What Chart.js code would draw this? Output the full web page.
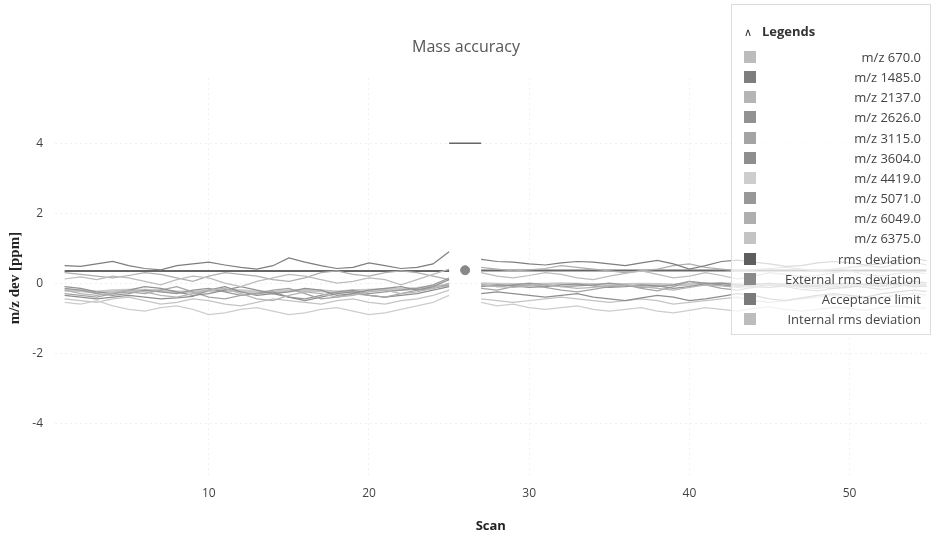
<!DOCTYPE html>
<html>
<head>
<meta charset="utf-8">
<script src="https://cdn.jsdelivr.net/npm/chart.js@4.4.1/dist/chart.umd.min.js"></script>
<style>
body{margin:0;background:#fff;}
#wrap{position:relative;width:932px;height:536px;}
#legend{position:absolute;left:731px;top:4px;width:200px;height:331px;border:1px solid #dcdcdc;background:rgba(255,255,255,0.72);font-family:"Open Sans",sans-serif;font-size:13px;color:#444;box-sizing:border-box;}
#legend .hd{position:absolute;left:12px;top:17px;font-weight:bold;color:#333;}
#legend .hd span{display:inline-block;width:18px;font-weight:normal;font-size:11px;}
#legend .row{position:absolute;left:12px;right:9px;height:18px;line-height:18px;text-align:right;}
#legend .sw{position:absolute;left:0;top:3px;width:12px;height:12px;}
</style>
</head>
<body>
<div id="wrap">
<canvas id="chart" width="932" height="536"></canvas>
<div id="legend"></div>
</div>
<script>
const scans = [1,2,3,4,5,6,7,8,9,10,11,12,13,14,15,16,17,18,19,20,21,22,23,24,25,26,27,28,29,30,31,32,33,34,35,36,37,38,39,40,41,42,43,44,45,46,47,48,49,50,51,52,53,54,55];

const mz670 = [0.12,0.18,0.1,0.2,0.15, 0.05,-0.05,0.1,0.2,0.15, 0.0,-0.1,0.05,0.15,0.25, 0.2,0.1,0.0,0.05,0.15, 0.1,-0.05,0.1,0.25,0.4, null,
  0.3,0.2,0.15,0.22,0.3, 0.25,0.15,0.1,0.2,0.28, 0.35,0.25,0.15,0.2,0.3, 0.22,0.12,0.2,0.3,0.25, 0.18,0.22,0.3,0.35,0.25, 0.2,0.28,0.32,0.25];
const mz1485 = [0.5,0.48,0.55,0.62,0.5, 0.42,0.38,0.5,0.55,0.6, 0.52,0.45,0.4,0.5,0.72, 0.6,0.5,0.42,0.45,0.58, 0.5,0.42,0.45,0.55,0.9, null,
  0.68,0.62,0.6,0.55,0.52, 0.58,0.62,0.6,0.55,0.5, 0.58,0.65,0.55,0.4,0.5, 0.62,0.66,0.6,0.55,0.48, 0.5,0.58,0.62,0.58,0.52, 0.55,0.65,0.72,0.62];
const mz2137 = [-0.2,-0.3,-0.35,-0.28,-0.2, -0.25,-0.35,-0.4,-0.3,-0.2, -0.15,-0.3,-0.45,-0.5,-0.35, -0.25,-0.3,-0.4,-0.35,-0.25, -0.2,-0.3,-0.25,-0.15,0.0, null,
  -0.05,-0.1,-0.12,-0.08,-0.05, -0.1,-0.15,-0.12,-0.08,-0.05, -0.1,-0.15,-0.2,-0.12,-0.05, -0.08,-0.12,-0.1,-0.05,-0.08, -0.12,-0.15,-0.1,-0.05,-0.08, -0.1,-0.06,-0.04,-0.08];
const mz2626 = [-0.1,-0.15,-0.25,-0.3,-0.2, -0.1,-0.15,-0.25,-0.35,-0.3, -0.2,-0.1,-0.2,-0.3,-0.25, -0.15,-0.2,-0.35,-0.3,-0.2, -0.15,-0.1,-0.2,-0.1,0.1, null,
  -0.1,-0.05,-0.08,-0.12,-0.1, -0.05,-0.02,-0.08,-0.12,-0.1, -0.05,-0.08,-0.15,-0.1,-0.02, 0.0,-0.05,-0.1,-0.12,-0.08, -0.05,-0.1,-0.15,-0.12,-0.05, 0.0,-0.05,-0.1,-0.08];
const mz3115 = [-0.3,-0.35,-0.4,-0.3,-0.25, -0.3,-0.2,-0.1,-0.25,-0.4, -0.45,-0.35,-0.3,-0.2,-0.15, -0.3,-0.45,-0.4,-0.3,-0.35, -0.4,-0.3,-0.2,-0.15,-0.05, null,
  -0.15,-0.2,-0.1,-0.05,-0.12, -0.2,-0.25,-0.18,-0.1,-0.05, -0.15,-0.22,-0.1,0.05,-0.05, -0.15,-0.2,-0.12,-0.05,-0.1, -0.18,-0.22,-0.15,-0.08,-0.12, -0.18,-0.1,-0.02,-0.1];
const mz3604 = [-0.35,-0.4,-0.45,-0.4,-0.35, -0.4,-0.45,-0.42,-0.38,-0.2, -0.1,-0.25,-0.35,-0.3,-0.4, -0.5,-0.4,-0.3,-0.25,-0.35, -0.4,-0.35,-0.3,-0.2,-0.1, null,
  -0.3,-0.25,-0.3,-0.35,-0.4, -0.35,-0.3,-0.4,-0.45,-0.5, -0.42,-0.35,-0.4,-0.5,-0.45, -0.38,-0.3,-0.35,-0.45,-0.5, -0.42,-0.35,-0.3,-0.35,-0.4, -0.3,-0.25,-0.2,-0.25];
const mz4419 = [-0.55,-0.6,-0.5,-0.65,-0.75, -0.8,-0.7,-0.65,-0.75,-0.9, -0.85,-0.75,-0.7,-0.8,-0.9, -0.85,-0.75,-0.7,-0.8,-0.9, -0.85,-0.75,-0.65,-0.55,-0.35, null,
  -0.55,-0.65,-0.6,-0.7,-0.75, -0.7,-0.65,-0.75,-0.8,-0.75, -0.7,-0.8,-0.85,-0.78,-0.7, -0.75,-0.8,-0.72,-0.68,-0.75, -0.8,-0.75,-0.7,-0.72,-0.78, -0.7,-0.65,-0.7,-0.72];
const mz5071 = [-0.15,-0.2,-0.3,-0.35,-0.3, -0.2,-0.25,-0.3,-0.2,-0.15, -0.25,-0.35,-0.3,-0.25,-0.4, -0.45,-0.35,-0.25,-0.2,-0.3, -0.25,-0.2,-0.15,-0.05,0.15, null,
  -0.05,-0.1,-0.05,0.0,-0.05, -0.1,-0.08,-0.05,0.0,-0.05, -0.12,-0.1,-0.05,0.05,0.0, -0.05,-0.1,-0.05,0.0,-0.05, -0.1,-0.08,-0.02,0.0,-0.05, -0.08,-0.02,0.05,0.0];
const mz6049 = [0.3,0.25,0.2,0.15,0.22, 0.3,0.25,0.15,0.05,0.2, 0.3,0.25,0.2,0.1,0.05, 0.15,0.3,0.35,0.25,0.2, 0.3,0.35,0.3,0.2,0.1, null,
  0.45,0.4,0.35,0.38,0.42, 0.5,0.45,0.4,0.35,0.3, 0.35,0.4,0.5,0.55,0.45, 0.4,0.35,0.38,0.42,0.45, 0.4,0.35,0.4,0.45,0.5, 0.45,0.55,0.6,0.5];
const mz6375 = [-0.45,-0.5,-0.55,-0.45,-0.4, -0.5,-0.6,-0.55,-0.45,-0.5, -0.6,-0.65,-0.55,-0.45,-0.5, -0.55,-0.6,-0.5,-0.45,-0.55, -0.6,-0.5,-0.45,-0.35,-0.2, null,
  -0.45,-0.5,-0.55,-0.5,-0.45, -0.4,-0.45,-0.5,-0.55,-0.5, -0.45,-0.5,-0.6,-0.55,-0.5, -0.45,-0.4,-0.5,-0.55,-0.5, -0.45,-0.4,-0.35,-0.4,-0.45, -0.4,-0.35,-0.3,-0.35];
const extRms = [0.35,0.35,0.35,0.35,0.35, 0.35,0.35,0.35,0.35,0.35, 0.35,0.35,0.35,0.35,0.35, 0.35,0.35,0.35,0.35,0.35, 0.35,0.35,0.35,0.35,0.35, null,
  0.36,0.36,0.36,0.36,0.36, 0.36,0.36,0.36,0.36,0.36, 0.36,0.36,0.36,0.36,0.36, 0.36,0.36,0.36,0.36,0.36, 0.36,0.36,0.36,0.36,0.36, 0.36,0.36,0.36,0.36];
const intRms = [-0.2,-0.22,-0.25,-0.22,-0.2, -0.2,-0.22,-0.25,-0.25,-0.22, -0.2,-0.22,-0.25,-0.25,-0.22, -0.2,-0.22,-0.25,-0.22,-0.2, -0.18,-0.18,-0.15,-0.1,-0.05, null,
  -0.02,-0.03,-0.04,-0.04,-0.03, -0.02,-0.03,-0.04,-0.05,-0.04, -0.03,-0.04,-0.05,-0.04,-0.02, -0.02,-0.03,-0.04,-0.04,-0.03, -0.03,-0.04,-0.05,-0.04,-0.03, -0.02,-0.03,-0.04,-0.03];
const rmsScan = [26];
const rmsDev = [0.37];
const limitScans = [25, 26, 27];
const limitVals = [4, 4, 4];

const labels = ["m/z 670.0","m/z 1485.0","m/z 2137.0","m/z 2626.0","m/z 3115.0","m/z 3604.0","m/z 4419.0","m/z 5071.0","m/z 6049.0","m/z 6375.0"];
const colors = ["#bcbcbc","#7e7e7e","#b5b5b5","#929292","#a4a4a4","#8e8e8e","#cdcdcd","#989898","#afafaf","#c4c4c4"];
const series = [mz670, mz1485, mz2137, mz2626, mz3115, mz3604, mz4419, mz5071, mz6049, mz6375];

function pts(xs, ys){ return xs.map((x, i) => ({x: x, y: ys[i]})); }

const datasets = series.map((s, i) => ({
  label: labels[i], data: pts(scans, s), borderColor: colors[i], backgroundColor: colors[i],
  borderWidth: 1.2, pointRadius: 0, spanGaps: false
}));
datasets.push({label:"rms deviation", data: pts(rmsScan, rmsDev), borderColor:"#888", backgroundColor:"#888", pointRadius:4.5, showLine:false, legendColor:"#5e5e5e"});
datasets.push({label:"External rms deviation", data: pts(scans, extRms), borderColor:"#666", backgroundColor:"#8a8a8a", borderWidth:2, pointRadius:0, legendColor:"#8a8a8a"});
datasets.push({label:"Acceptance limit", data: pts(limitScans, limitVals), borderColor:"#666", backgroundColor:"#777", borderWidth:1.3, pointRadius:0, legendColor:"#7a7a7a"});
datasets.push({label:"Internal rms deviation", data: pts(scans, intRms), borderColor:"rgba(185,185,185,0.8)", backgroundColor:"#bbb", borderWidth:3, pointRadius:0, legendColor:"#bcbcbc"});

const gridStyle = {color:"rgba(0,0,0,0.06)", drawTicks:false};

const chart = new Chart(document.getElementById("chart"), {
  type: "line",
  data: {datasets: datasets},
  options: {
    responsive: false,
    animation: false,
    layout: {padding: 0},
    plugins: {
      legend: {display: false},
      tooltip: {enabled: false},
      title: {display: true, text: "Mass accuracy", color: "#555",
        font: {family: "Open Sans", size: 16, weight: "normal"}, padding: {top: 38, bottom: 21}}
    },
    scales: {
      x: {
        type: "linear", min: 0.4, max: 54.8,
        grid: gridStyle, border: {display: false, dash: [2, 3]},
        ticks: {stepSize: 10, includeBounds: false, padding: 8, color: "#444", font: {family: "Open Sans", size: 12}},
        title: {display: true, text: "Scan", color: "#222", font: {family: "Open Sans", size: 13, weight: "bold"}, padding: {top: 0, bottom: 2}},
        afterFit: s => { s.height = 58; }
      },
      y: {
        min: -5.57, max: 5.86,
        grid: gridStyle, border: {display: false, dash: [2, 3]},
        ticks: {stepSize: 2, includeBounds: false, padding: 12, color: "#444", font: {family: "Open Sans", size: 12}},
        title: {display: true, text: "m/z dev [ppm]", color: "#222", font: {family: "Liberation Serif", size: 15, weight: "bold"}, padding: {top: 6, bottom: 0}},
        afterFit: s => { s.width = 55; }
      }
    }
  }
});

// legend panel built from the datasets
const lg = document.getElementById("legend");
lg.innerHTML = '<div class="hd"><span>&#8743;</span>Legends</div>';
chart.data.datasets.forEach((d, i) => {
  const row = document.createElement("div");
  row.className = "row";
  row.style.top = (43 + i * 20.15) + "px";
  row.innerHTML = '<div class="sw" style="background:' + (d.legendColor || d.borderColor) + '"></div>' + d.label;
  lg.appendChild(row);
});
</script>
</body>
</html>
